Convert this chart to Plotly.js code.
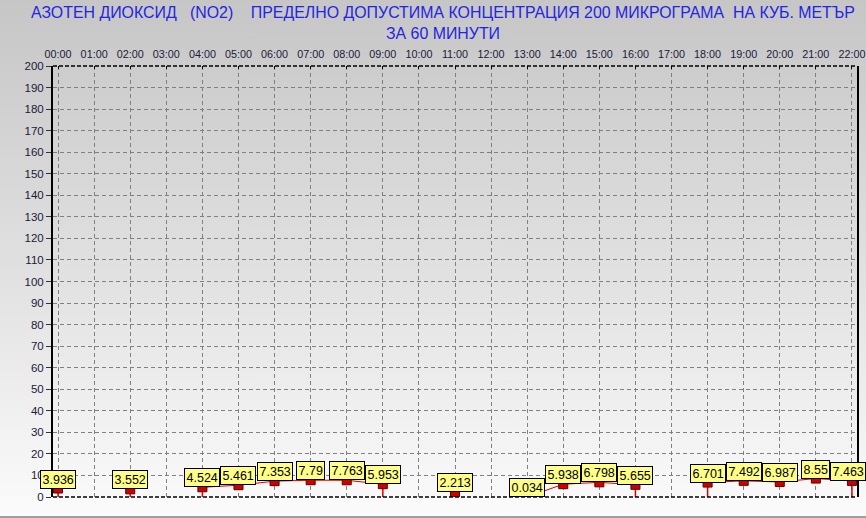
<!DOCTYPE html>
<html>
<head>
<meta charset="utf-8">
<script src="https://cdn.plot.ly/plotly-3.0.1.min.js"></script>
<style>
html,body{margin:0;padding:0;}
body{width:866px;height:518px;overflow:hidden;}
#chart{width:866px;height:518px;background:linear-gradient(to bottom,#c6c6c6 0%,#e2e2e2 55%,#fbfbfb 100%);box-sizing:border-box;border-bottom:2px solid #a0a0a0;}
</style>
</head>
<body>
<div id="chart"></div>
<script>
// Hours (category index) and labels
const hourLabels = ["00:00","01:00","02:00","03:00","04:00","05:00","06:00","07:00","08:00","09:00","10:00","11:00","12:00","13:00","14:00","15:00","16:00","17:00","18:00","19:00","20:00","21:00","22:00"];
// NO2 concentration per hour (null = no data)
const no2Values = [3.936,null,3.552,null,4.524,5.461,7.353,7.79,7.763,5.953,null,2.213,null,0.034,5.938,6.798,5.655,null,6.701,7.492,6.987,8.55,7.463];
const no2Text = ["3.936","","3.552","","4.524","5.461","7.353","7.79","7.763","5.953","","2.213","","0.034","5.938","6.798","5.655","","6.701","7.492","6.987","8.55","7.463"];
const yTicks = [0,10,20,30,40,50,60,70,80,90,100,110,120,130,140,150,160,170,180,190,200];
const titleText = 'АЗОТЕН ДИОКСИД   (NO2)    ПРЕДЕЛНО ДОПУСТИМА КОНЦЕНТРАЦИЯ 200 МИКРОГРАМА  НА КУБ. МЕТЪР<br>ЗА 60 МИНУТИ';

const xIdx = hourLabels.map((_, i) => i);
// drop line to zero for points that sit next to a gap
const dropMinus = no2Values.map((v, i) => {
  if (v === null) return 0;
  const prev = i > 0 ? no2Values[i-1] : null;
  const next = i < no2Values.length-1 ? no2Values[i+1] : null;
  return (prev === null || next === null) ? v : 0;
});

const trace = {
  type: 'scatter',
  mode: 'lines+markers',
  x: xIdx,
  y: no2Values,
  connectgaps: false,
  line: {color: '#e00000', width: 1},
  marker: {symbol: 'square', size: 9, color: '#d00000', line: {color: '#600000', width: 1}},
  error_y: {type: 'data', symmetric: false, array: no2Values.map(() => 0), arrayminus: dropMinus, width: 0, thickness: 1.5, color: '#e00000'},
  hoverinfo: 'skip'
};

const annotations = [];
const lastIdx = no2Values.length - 1;
no2Values.forEach((v, i) => {
  if (v === null) return;
  annotations.push({
    x: i, y: v, xref: 'x', yref: 'y',
    text: no2Text[i], showarrow: false,
    xanchor: 'center', yanchor: 'bottom',
    xshift: i === lastIdx ? -4 : 0,
    bgcolor: '#ffff88', bordercolor: '#000000', borderwidth: 1, borderpad: 1.5,
    font: {family: 'Arial, "Liberation Sans", sans-serif', size: 12.5, color: '#000000'}
  });
});
// chart title (two lines)
annotations.push({
  text: titleText, showarrow: false,
  xref: 'paper', yref: 'paper', x: 0.485, y: 1.05,
  xanchor: 'center', yanchor: 'bottom', align: 'center',
  font: {family: '"Liberation Sans", Arial, sans-serif', size: 15.9, color: '#2424e4'}
});

const layout = {
  width: 866, height: 518,
  paper_bgcolor: 'rgba(0,0,0,0)',
  plot_bgcolor: 'rgba(0,0,0,0)',
  margin: {l: 53, r: 9, t: 66, b: 21},
  showlegend: false,
  xaxis: {
    side: 'top',
    range: [-0.14, 22.14],
    tickvals: xIdx,
    ticktext: hourLabels,
    showgrid: true, gridcolor: '#808080', griddash: '4px,3px', gridwidth: 1,
    showline: false, zeroline: false,
    ticks: 'inside', ticklen: 3, tickcolor: '#000000',
    ticklabeloverflow: 'allow',
    ticklabelstandoff: 5,
    tickfont: {family: '"Liberation Sans", Arial, sans-serif', size: 10.8, color: '#1a1a3a'},
    fixedrange: true
  },
  yaxis: {
    range: [0, 200],
    tickvals: yTicks,
    showgrid: true, gridcolor: '#808080', griddash: '4px,3px', gridwidth: 1,
    showline: true, mirror: true, linecolor: '#000000', linewidth: 2,
    zeroline: false,
    ticks: 'outside', ticklen: 5, tickcolor: '#333333',
    tickfont: {family: 'Arial, "Liberation Sans", sans-serif', size: 11.5, color: '#1a1a3a'},
    fixedrange: true
  },
  shapes: [
    {type: 'line', xref: 'paper', yref: 'paper', x0: 0, x1: 1, y0: 1, y1: 1, line: {color: '#000000', width: 1.5, dash: '4px,2px'}},
    {type: 'line', xref: 'paper', yref: 'paper', x0: 0, x1: 1, y0: 0, y1: 0, line: {color: '#000000', width: 1.5, dash: '4px,2px'}}
  ],
  annotations: annotations
};

Plotly.newPlot('chart', [trace], layout, {displayModeBar: false, staticPlot: true});
</script>
</body>
</html>
